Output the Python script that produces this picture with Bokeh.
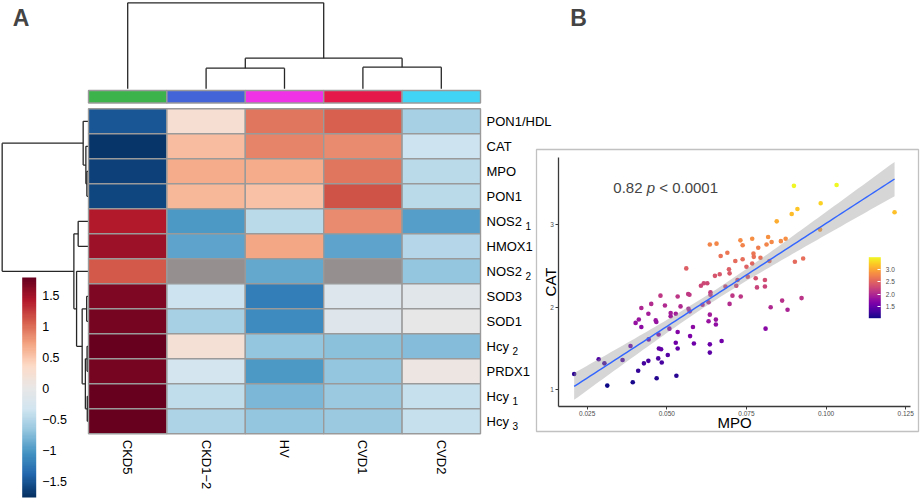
import numpy as np
from bokeh.plotting import figure
from bokeh.models import (Range1d, ColumnDataSource, LinearColorMapper, ColorBar, FixedTicker,
                          CustomJSTickFormatter, PrintfTickFormatter, Label, LinearAxis,
                          BoxAnnotation)
from bokeh.palettes import Plasma256
from bokeh.core.properties import value
from bokeh.embed import file_html
from bokeh.resources import INLINE

FONT = "Liberation Sans"
nan = float("nan")

# ---------------- Panel A data ----------------
samples = ["CKD5", "CKD1\u22122", "HV", "CVD1", "CVD2"]
group_colors = ["#3cb44b", "#4363d8", "#f032e6", "#e6194b", "#42d4f4"]
genes = ["PON1/HDL", "CAT", "MPO", "PON1", "NOS2", "HMOX1", "NOS2", "SOD3", "SOD1",
         "Hcy", "PRDX1", "Hcy", "Hcy"]
gene_subscripts = ["", "", "", "", "1", "", "2", "", "", "2", "", "1", "3"]

ckd5 = [-1.48, -1.72, -1.64, -1.60, 1.43, 1.53, 1.10, 1.66, 1.70, 1.76, 1.71, 1.78, 1.79]
ckd12 = [0.25, 0.55, 0.68, 0.60, -0.98, -0.93, nan, -0.35, -0.57, 0.22, -0.30, -0.43, -0.53]
hv = [0.95, 0.87, 0.66, 0.52, -0.45, 0.70, -0.90, -1.20, -1.10, -0.69, -1.00, -0.80, -0.67]
cvd1 = [1.05, 0.85, 0.95, 1.15, 0.84, -0.92, nan, -0.17, -0.13, -0.71, -0.68, -0.64, -0.65]
cvd2 = [-0.57, -0.36, -0.48, -0.48, -0.97, -0.50, -0.69, -0.12, 0.00, -0.76, 0.08, -0.40, -0.41]
columns_values = [ckd5, ckd12, hv, cvd1, cvd2]

# dendrogram merges: (child_a, child_b, height)
col_merges = [(1, 2, 2.06), (3, 4, 2.16), (5, 6, 3.06), (0, 7, 8.6)]
row_merges = [(2, 3, 0.10), (1, 13, 0.20), (0, 14, 0.47), (4, 5, 0.97), (7, 8, 0.12),
              (9, 10, 0.08), (11, 12, 0.06), (18, 19, 0.25), (17, 20, 0.57), (6, 21, 1.13),
              (16, 22, 1.40), (15, 23, 8.57)]

heat_low, heat_high = -1.76, 1.79
heat_ticks = [-1.5, -1, -0.5, 0, 0.5, 1, 1.5]

# ---------------- Panel B data ----------------
mpo = [0.0899, 0.1033, 0.0983, 0.0910, 0.0892, 0.1215, 0.0845, 0.0981, 0.0635, 0.0656,
       0.0731, 0.0768, 0.0818, 0.0873, 0.0738, 0.0829, 0.0858, 0.0813, 0.0787, 0.0690,
       0.0669, 0.0772, 0.0773, 0.0794, 0.0738, 0.0715, 0.0822, 0.0768, 0.0902, 0.0928,
       0.0561, 0.0750, 0.0695, 0.0697, 0.0666, 0.0651, 0.0754, 0.0779, 0.0722, 0.0808,
       0.0627, 0.0616, 0.0607, 0.0718, 0.0684, 0.0783, 0.0808, 0.0637, 0.0637, 0.0480,
       0.0534, 0.0567, 0.0571, 0.0706, 0.0732, 0.0612, 0.0631, 0.0697, 0.0862, 0.0923,
       0.0451, 0.0494, 0.0543, 0.0420, 0.0826, 0.0879, 0.0568, 0.0572, 0.0512, 0.0528,
       0.0442, 0.0635, 0.0512, 0.0412, 0.0465, 0.0654, 0.0631, 0.0402, 0.0654, 0.0467,
       0.0420, 0.0582, 0.0810, 0.0386, 0.0443, 0.0474, 0.0508, 0.0534, 0.0528, 0.0534,
       0.0573, 0.0475, 0.0482, 0.0503, 0.0286, 0.0304, 0.0361, 0.0428, 0.0442, 0.0473,
       0.0484, 0.0410, 0.0209, 0.0468, 0.0530, 0.0393, 0.0313, 0.0585, 0.0635, 0.0635,
       0.0672]
cat = [3.47, 3.48, 3.26, 3.19, 3.13, 3.15, 3.04, 2.94, 2.76, 2.77,
       2.81, 2.83, 2.85, 2.83, 2.75, 2.79, 2.80, 2.76, 2.72, 2.66,
       2.62, 2.65, 2.61, 2.60, 2.58, 2.56, 2.56, 2.53, 2.55, 2.59,
       2.47, 2.49, 2.46, 2.41, 2.40, 2.38, 2.37, 2.35, 2.33, 2.33,
       2.29, 2.29, 2.26, 2.26, 2.25, 2.24, 2.25, 2.18, 2.15, 2.14,
       2.13, 2.16, 2.15, 2.14, 2.13, 2.03, 2.06, 2.04, 2.08, 2.11,
       2.04, 2.02, 2.01, 1.99, 2.00, 1.97, 1.98, 1.95, 1.93, 1.92,
       1.92, 1.91, 1.89, 1.85, 1.84, 1.85, 1.83, 1.81, 1.79, 1.82,
       1.76, 1.76, 1.74, 1.53, 1.61, 1.67, 1.74, 1.70, 1.57, 1.50,
       1.65, 1.50, 1.49, 1.42, 1.37, 1.32, 1.36, 1.32, 1.35, 1.38,
       1.33, 1.23, 1.19, 1.14, 1.17, 1.09, 1.05, 1.56, 1.55, 1.45,
       1.59]
r_text = "0.82"
p_text = "< 0.0001"
x_ticks = [0.025, 0.050, 0.075, 0.100, 0.125]
y_ticks = [1, 2, 3]
legend_ticks = [1.5, 2.0, 2.5, 3.0]
mpo_lim = (0.01608, 0.1265)
cat_lim = (0.797, 3.81)


# ---------------- helpers ----------------
def interp_colors(anchors, n):
    rgb = np.array([[int(c[i:i + 2], 16) for i in (1, 3, 5)] for c in anchors], float)
    t = np.linspace(0, 1, len(anchors))
    out = []
    for v in np.linspace(0, 1, n):
        r, g, b = (np.interp(v, t, rgb[:, k]) for k in range(3))
        out.append("#%02x%02x%02x" % (int(round(r)), int(round(g)), int(round(b))))
    return out


def dendro_segments(n_leaves, merges):
    pos = {i: i + 0.5 for i in range(n_leaves)}
    hgt = {i: 0.0 for i in range(n_leaves)}
    segs = []
    for k, (a, b, h) in enumerate(merges):
        node = n_leaves + k
        segs.append((pos[a], hgt[a], pos[a], h))
        segs.append((pos[b], hgt[b], pos[b], h))
        segs.append((pos[a], h, pos[b], h))
        pos[node] = (pos[a] + pos[b]) / 2.0
        hgt[node] = h
    return segs


rdbu = ["#053061", "#2166ac", "#4393c3", "#92c5de", "#d1e5f0", "#e9e7e7",
        "#fddbc7", "#f4a582", "#d6604d", "#b2182b", "#67001f"]
heat_palette = interp_colors(rdbu, 100)
heat_mapper = LinearColorMapper(palette=heat_palette, low=heat_low, high=heat_high,
                                nan_color="#968f8f")

# ---------------- one page-sized canvas ----------------
W, H = 920, 499
COLW, ROWH = 78.4, 25.0
X0, Y0 = 88.0, 108.3   # heatmap top-left in px
p = figure(width=W, height=H, output_backend="svg", toolbar_location=None,
           x_range=Range1d(-X0 / COLW, (W - X0) / COLW),
           y_range=Range1d((H - Y0) / ROWH, -Y0 / ROWH),
           x_axis_location=None, y_axis_location=None, min_border=0)
p.grid.visible = False
p.outline_line_color = None

# panel B scales: its plotting panel spans px 558.3..910 (x) and 157.3..406 (y)
BL, BR, BT, BB = 558.3, 910.0, 157.3, 406.0
kx = (mpo_lim[1] - mpo_lim[0]) / (BR - BL)
ky = (cat_lim[1] - cat_lim[0]) / (BB - BT)
p.extra_x_ranges = {"bx": Range1d(mpo_lim[0] - BL * kx, mpo_lim[0] + (W - BL) * kx),
                    "px": Range1d(0, W)}
p.extra_y_ranges = {"by": Range1d(cat_lim[0] - (H - BB) * ky, cat_lim[1] + BT * ky),
                    "py": Range1d(H, 0)}

# ---------------- Panel A ----------------
ncol, nrow = len(samples), len(genes)
cx, cy, cz = [], [], []
for j, colvals in enumerate(columns_values):
    for i, v in enumerate(colvals):
        cx.append(j + 0.5)
        cy.append(i + 0.5)
        cz.append(v)
heat_src = ColumnDataSource(dict(x=np.array(cx), y=np.array(cy), z=np.array(cz, dtype=float)))
p.rect(x="x", y="y", width=1, height=1, source=heat_src,
       fill_color={"field": "z", "transform": heat_mapper},
       line_color="#9a9a9a", line_width=1.4)

p.rect(x=[j + 0.5 for j in range(ncol)], y=-0.482, width=1, height=0.5,
       fill_color=group_colors, line_color="#9a9a9a", line_width=1.4)

HPX = 10.0
segs = dendro_segments(ncol, col_merges)
base_top = -0.8
p.segment(x0=[s[0] for s in segs], y0=[base_top - s[1] * HPX / ROWH for s in segs],
          x1=[s[2] for s in segs], y1=[base_top - s[3] * HPX / ROWH for s in segs],
          line_color="#262626", line_width=1.3)
segs = dendro_segments(nrow, row_merges)
base_left = -0.008
p.segment(y0=[s[0] for s in segs], x0=[base_left - s[1] * HPX / COLW for s in segs],
          y1=[s[2] for s in segs], x1=[base_left - s[3] * HPX / COLW for s in segs],
          line_color="#262626", line_width=1.3)

lab_x = 5.077
p.text(x=[lab_x] * nrow, y=[i + 0.5 for i in range(nrow)], text=genes,
       text_font=value(FONT), text_font_size=value("13px"), text_baseline="middle",
       text_align="left", text_color="black")
sub_offset = {"NOS2": 39, "Hcy": 26}
sx = [lab_x for g, s in zip(genes, gene_subscripts) if s]
sy = [i + 0.5 for i, s in enumerate(gene_subscripts) if s]
st = [s for s in gene_subscripts if s]
so = [sub_offset.get(g, 0) for g, s in zip(genes, gene_subscripts) if s]
p.text(x=sx, y=sy, text=st, x_offset=so, y_offset=5,
       text_font=value(FONT), text_font_size=value("10px"), text_baseline="middle",
       text_align="left", text_color="black")

p.text(x=[j + 0.5 for j in range(ncol)], y=[13.24] * ncol, text=samples, angle=-np.pi / 2,
       text_font=value(FONT), text_font_size=value("13px"), text_baseline="middle",
       text_align="left", text_color="black")

p.add_layout(Label(x=-0.861, y=-3.62, text="A", text_font=FONT, text_font_size="23px",
                   text_font_style="bold", text_align="center", text_baseline="middle"))
p.add_layout(Label(x=6.25, y=-3.62, text="B", text_font=FONT, text_font_size="23px",
                   text_font_style="bold", text_align="center", text_baseline="middle"))

cbA = ColorBar(color_mapper=heat_mapper, location=(21.7, 2), width=14, height=220, padding=0,
               ticker=FixedTicker(ticks=heat_ticks),
               formatter=CustomJSTickFormatter(
                   code="return (tick < 0 ? '\\u2212' : '') + Math.abs(tick).toString();"),
               label_standoff=6, major_label_text_font=FONT, major_label_text_font_size="12.5px",
               major_label_text_color="black", major_tick_line_color=None,
               bar_line_color=None, border_line_color=None, background_fill_alpha=0)
p.add_layout(cbA)

# ---------------- Panel B ----------------
p.add_layout(BoxAnnotation(left=536, right=918, top=149, bottom=431,
                           x_range_name="px", y_range_name="py",
                           fill_color=None, line_color="#333333", line_width=1.3))

mx = np.array(mpo)
my = np.array(cat)
cmapB = LinearColorMapper(palette=Plasma256, low=float(my.min()), high=float(my.max()))
p.scatter(x="mpo", y="cat", source=ColumnDataSource(dict(mpo=mx, cat=my)), size=4.6,
          fill_color={"field": "cat", "transform": cmapB}, line_color=None,
          x_range_name="bx", y_range_name="by")

slope, intercept = np.polyfit(mx, my, 1)
xs = np.linspace(mx.min(), mx.max(), 80)
fit = intercept + slope * xs
resid = my - (intercept + slope * mx)
n = len(mx)
s = np.sqrt((resid ** 2).sum() / (n - 2))
sxx = ((mx - mx.mean()) ** 2).sum()
se = s * np.sqrt(1.0 / n + (xs - mx.mean()) ** 2 / sxx)
tval = 1.982
p.varea(x=xs, y1=fit - tval * se, y2=fit + tval * se, fill_color="#999999", fill_alpha=0.4,
        x_range_name="bx", y_range_name="by")
p.line(xs, fit, line_color="#3366ff", line_width=1.4, x_range_name="bx", y_range_name="by")

xaxB = LinearAxis(x_range_name="bx", y_range_name="by", fixed_location=cat_lim[0],
                  bounds=mpo_lim, ticker=FixedTicker(ticks=x_ticks),
                  formatter=PrintfTickFormatter(format="%.3f"), axis_label="MPO")
yaxB = LinearAxis(x_range_name="bx", y_range_name="by", fixed_location=mpo_lim[0],
                  bounds=cat_lim, ticker=FixedTicker(ticks=y_ticks), axis_label="CAT")
for ax in (xaxB, yaxB):
    ax.axis_line_color = "#3a3a3a"
    ax.axis_line_width = 1.3
    ax.major_tick_line_color = "#3a3a3a"
    ax.major_tick_out = 3
    ax.major_tick_in = 0
    ax.minor_tick_line_color = None
    ax.major_label_text_font = FONT
    ax.major_label_text_font_size = "6.5px"
    ax.major_label_text_color = "#4d4d4d"
    ax.axis_label_text_font = FONT
    ax.axis_label_text_font_size = "15px"
    ax.axis_label_text_font_style = "normal"
    ax.axis_label_text_color = "black"
xaxB.major_label_standoff = 1
yaxB.major_label_standoff = 2
xaxB.axis_label_standoff = -5
yaxB.axis_label_standoff = -12
p.add_layout(xaxB, "below")
p.add_layout(yaxB, "left")

tx, ty = 0.0332, 3.448
for txt, off, style in ((r_text, 0, "normal"), ("p", 33.4, "italic"), (p_text, 45.9, "normal")):
    p.add_layout(Label(x=tx, y=ty, x_offset=off, text=txt, text_font=FONT,
                       text_font_size="15px", text_font_style=style, text_baseline="middle",
                       x_range_name="bx", y_range_name="by"))

cbB = ColorBar(color_mapper=cmapB, location=(868.3, H - 317.7), width=12, height=61, padding=0,
               ticker=FixedTicker(ticks=legend_ticks),
               formatter=PrintfTickFormatter(format="%.1f"),
               label_standoff=5, major_label_text_font=FONT, major_label_text_font_size="6.5px",
               major_label_text_color="#4d4d4d", major_tick_line_color="white",
               major_tick_in=3, major_tick_out=0,
               bar_line_color=None, border_line_color=None, background_fill_alpha=0)
p.add_layout(cbB)

open("out.html", "w").write(file_html(p, INLINE))
